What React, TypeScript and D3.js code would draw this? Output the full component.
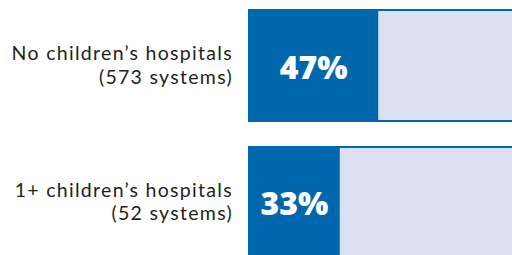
import React from "react";
import * as d3 from "d3";

const groups = ["No children\u2019s hospitals", "1+ children\u2019s hospitals"];
const systems = ["(573 systems)", "(52 systems)"];
const shares = [47, 33];

const width = 512;
const height = 255;
const dark = "#0067AC";
const light = "#DCE0F3";

export default function App() {
  const x = d3.scaleLinear().domain([0, 100]).range([249, 524]);
  const y = d3.scaleBand<number>().domain([0, 1]).range([9, 259]).paddingInner(0.175).paddingOuter(0);

  return (
    <svg width={width} height={height} style={{ position: "absolute", left: 0, top: 0 }}>
      {groups.map((g, i) => {
        const y0 = y(i)!;
        const h = y.bandwidth();
        const cy = y0 + h / 2;
        return (
          <g key={g}>
            <rect x={x(0)} y={y0 + 1} width={x(100) - x(0)} height={h - 2} fill={light} stroke={dark} strokeWidth={2} />
            <rect x={x(0)} y={y0} width={x(shares[i]) - x(0)} height={h} fill={dark} />
            <text
              x={(x(0) + x(shares[i])) / 2}
              y={cy + 13}
              textAnchor="middle"
              fill="#fff"
              fontFamily="Open Sans"
              fontWeight={800}
              fontSize={32}
            >
              {shares[i]}%
            </text>
            <text textAnchor="end" fill="#231F20" fontFamily="Lato" fontSize={19.5} letterSpacing={1.3}>
              <tspan x={233} y={cy - 5.5}>{g}</tspan>
              <tspan x={233} y={cy + 18}>{systems[i]}</tspan>
            </text>
          </g>
        );
      })}
    </svg>
  );
}
